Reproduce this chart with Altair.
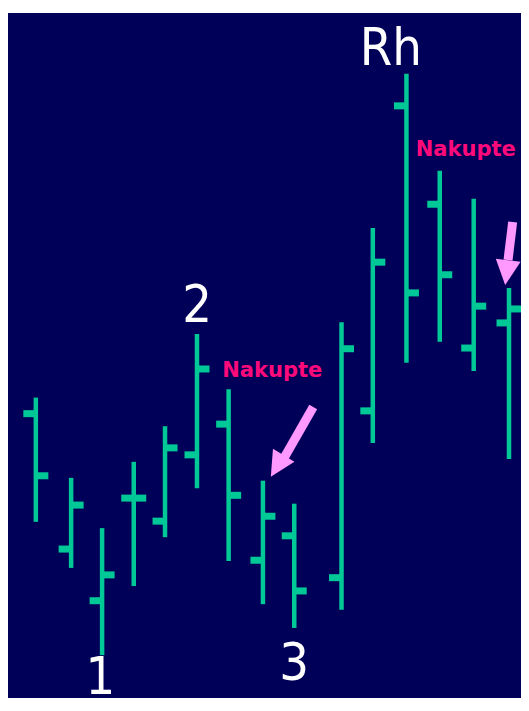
import altair as alt
import pandas as pd

# ---- OHLC data ----
day   = [1.0, 2.06, 2.99, 3.94, 4.88, 5.84, 6.79, 7.82, 8.76, 10.18, 11.12, 12.13, 13.13, 14.15, 15.21]
high  = [44.9, 33.4, 26.2, 35.7, 40.8, 54.0, 46.1, 33.0, 29.7, 55.7, 69.2, 91.3, 77.4, 73.4, 60.6]
low   = [27.1, 20.5, 8.0, 17.9, 24.9, 31.9, 21.5, 15.3, 11.9, 14.5, 38.4, 49.9, 52.9, 48.7, 36.1]
open_ = [42.6, 23.2, 15.8, 30.5, 27.2, 36.7, 41.1, 21.6, 25.1, 19.1, 43.0, 86.7, 72.6, 52.0, 55.6]
close = [33.7, 29.5, 19.5, 30.5, 37.7, 49.0, 30.9, 27.9, 17.2, 51.9, 64.3, 59.9, 62.5, 58.0, 57.6]

# ---- labels ----
num_text = ["Rh", "2", "1", "3"]
num_x    = [11.66, 5.84, 2.94, 8.76]
num_y    = [92.55, 55.7, 2.5, 4.44]

buy_text = ["Nakupte", "Nakupte"]
buy_x    = [8.10, 13.91]
buy_y    = [47.85, 79.5]

# ---- arrows (tail -> head base, head centre, rotation) ----
arr_x1 = [9.33, 15.32]
arr_y1 = [43.55, 70.06]
arr_x2 = [8.45, 15.18]
arr_y2 = [36.2, 64.6]
head_x = [8.25, 15.14]
head_y = [35.1, 62.8]
head_angle = [31, 7]

NAVY = "#000058"
GREEN = "#00c896"
PINK = "#ff0a7a"
ARROW = "#ff99ff"

ohlc = pd.DataFrame({"day": day, "high": high, "low": low, "open": open_, "close": close})
nums = pd.DataFrame({"x": num_x, "y": num_y, "t": num_text})
buys = pd.DataFrame({"x": buy_x, "y": buy_y, "t": buy_text})
arrows = pd.DataFrame({"x": arr_x1, "y": arr_y1, "x2": arr_x2, "y2": arr_y2})
heads = pd.DataFrame({"x": head_x, "y": head_y, "a": head_angle})

xs = alt.Scale(domain=[0.164, 15.57], nice=False, zero=False)
ys = alt.Scale(domain=[1.862, 100], nice=False, zero=False)
X = lambda f: alt.X(f, type="quantitative", scale=xs, axis=None)
Y = lambda f: alt.Y(f, type="quantitative", scale=ys, axis=None)

base = alt.Chart(ohlc)
vert = base.mark_rule(color=GREEN, strokeWidth=4.5).encode(x=X("day"), y=Y("low"), y2="high")
opn = base.mark_tick(color=GREEN, opacity=1, orient="horizontal", size=11, thickness=7,
                     xOffset=-7).encode(x=X("day"), y=Y("open"))
cls = base.mark_tick(color=GREEN, opacity=1, orient="horizontal", size=11, thickness=7,
                     xOffset=7).encode(x=X("day"), y=Y("close"))

numtxt = alt.Chart(nums).mark_text(
    font="Liberation Sans Narrow, DejaVu Sans Condensed, sans-serif", fontSize=52,
    color="white", align="center", baseline="alphabetic").encode(x=X("x"), y=Y("y"), text="t")

buytxt = alt.Chart(buys).mark_text(
    font="DejaVu Sans", fontSize=21, fontWeight="bold",
    color=PINK, align="center", baseline="alphabetic").encode(x=X("x"), y=Y("y"), text="t")

shaft = alt.Chart(arrows).mark_rule(color=ARROW, strokeWidth=9).encode(
    x=X("x"), y=Y("y"), x2="x2", y2="y2")
head = alt.Chart(heads).mark_point(
    shape="M0,1L-1,-1L1,-1Z", filled=True, color=ARROW, opacity=1, size=625).encode(
    x=X("x"), y=Y("y"), angle=alt.Angle("a:Q", scale=None))

chart = alt.layer(vert, opn, cls, shaft, head, numtxt, buytxt).properties(
    width=513, height=685,
    padding={"left": 0, "top": 5, "right": 0, "bottom": 0},
    autosize=alt.AutoSizeParams(type="none"),
    background="white",
).configure_view(stroke=None, fill=NAVY)

chart.save("out.html", embed_options={"renderer": "svg", "actions": False})
